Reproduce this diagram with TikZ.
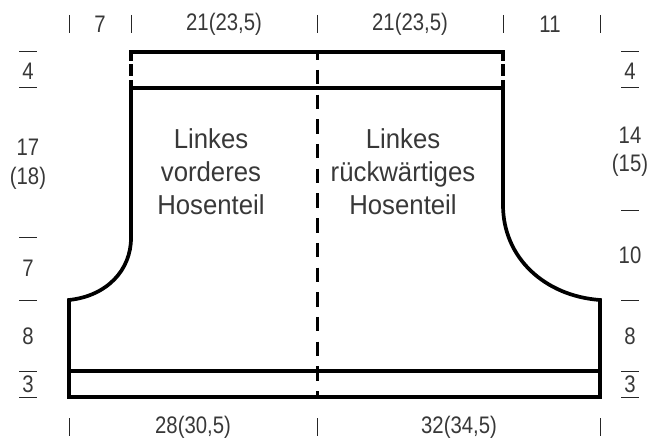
\documentclass[tikz,border=0pt]{standalone}
\usepackage{fontspec}
\setmainfont{Liberation Sans}
\newfontfamily\dimfont[FakeStretch=0.85]{Liberation Sans}
\newfontfamily\lblfont[FakeStretch=0.94]{Liberation Sans}
\tikzset{
  x=1bp,y=-1bp,
  outline/.style={line width=3.7bp,line join=miter,line cap=butt},
  seam/.style={line width=3.5bp},
  fold/.style={line width=3bp,dash pattern=on 14.5bp off 10.2bp,dash phase=6.8bp},
  vent/.style={line width=4bp,dash pattern=on 9bp off 3.5bp on 11.5bp off 4bp on 9bp},
  tick/.style={line width=1bp,black!85},
  dim/.style={inner sep=0pt,font=\dimfont\fontsize{24}{24}\selectfont,text=black!78,align=center},
  lbl/.style={inner sep=0pt,font=\lblfont\fontsize{27.5}{33}\selectfont,text=black!78,align=center},
}
\begin{document}
\begin{tikzpicture}
\useasboundingbox (0,0) rectangle (648,439);
% outline
\coordinate (wl) at (131,88);
\coordinate (wr) at (503,88);
\coordinate (tl) at (129,52);
\coordinate (tr) at (505,52);
\coordinate (vl) at (131,52);
\coordinate (vr) at (503,52);
\coordinate (hl) at (69,371);
\coordinate (hr) at (600,371);
\coordinate (bl) at (69,397);
\coordinate (br) at (600,397);
\coordinate (cl) at (69,300);
\coordinate (cr) at (600,300);
\coordinate (ct) at (317,52);
\coordinate (cb) at (317,397);
\draw[outline] (wl) -- (131,238) .. controls (131,270) and (107,296) .. (cl) -- (bl) -- (br) -- (cr)
  .. controls (545,296) and (503,258) .. (503,205) -- (wr) -- cycle;
\draw[seam] (tl) -- (tr);
\draw[seam] (hl) -- (hr);
\draw[vent] (vl) -- (wl);
\draw[vent] (vr) -- (wr);
\draw[fold] (ct) -- (cb);
% ticks
\foreach \x in {69.5,131,317,503,600}
  \draw[tick] (\x,15) -- (\x,33);
\foreach \x in {69.5,317,600}
  \draw[tick] (\x,418) -- (\x,436);
\foreach \y in {52,88,238,300,371,397}
  \draw[tick] (19,\y) -- (37,\y);
\foreach \y in {52,88,211,300,371,397}
  \draw[tick] (621,\y) -- (639,\y);
% dims
\node[dim] (t1) at (100,24) {7};
\node[dim] (t2) at (224,24) {21(23,5)};
\node[dim] (t3) at (410,24) {21(23,5)};
\node[dim] (t4) at (550,24) {11};
\node[dim] (b1) at (193,427) {28(30,5)};
\node[dim] (b2) at (459,427) {32(34,5)};
\node[dim] (l1) at (28,71) {4};
\node[dim] (l2) at (28,147) {17};
\node[dim] (l3) at (28,178) {(18)};
\node[dim] (l4) at (28,268) {7};
\node[dim] (l5) at (28,336) {8};
\node[dim] (l6) at (28,384) {3};
\node[dim] (r1) at (630,71) {4};
\node[dim] (r2) at (630,135) {14};
\node[dim] (r3) at (630,165) {(15)};
\node[dim] (r4) at (630,255) {10};
\node[dim] (r5) at (630,336) {8};
\node[dim] (r6) at (630,384) {3};
\node[lbl] (lv) at (211,172) {Linkes\\vorderes\\Hosenteil};
\node[lbl] (lr) at (403,172) {Linkes\\rückwärtiges\\Hosenteil};
\end{tikzpicture}
\end{document}
